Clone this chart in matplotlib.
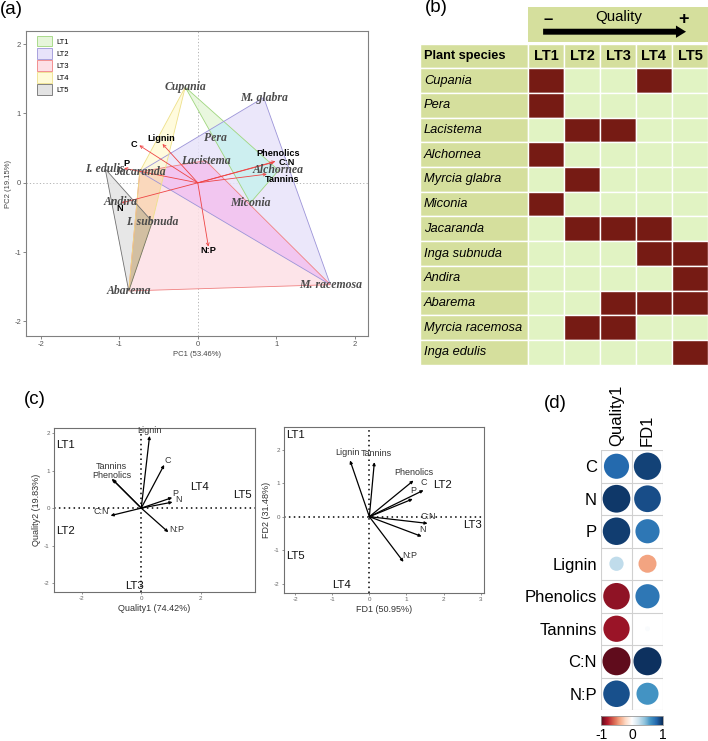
import numpy as np
import matplotlib
matplotlib.use('Agg')
import matplotlib.pyplot as plt
from matplotlib.patches import Rectangle, Polygon, Patch, FancyArrow
from matplotlib.colors import LinearSegmentedColormap, Normalize, to_rgba
from matplotlib.cm import ScalarMappable

plt.rcParams['font.family'] = ['Liberation Sans', 'DejaVu Sans']
plt.rcParams['axes.unicode_minus'] = False

# ---- data ----
species = ['Cupania', 'Pera', 'Lacistema', 'Alchornea', 'Myrcia glabra', 'Miconia',
           'Jacaranda', 'Inga subnuda', 'Andira', 'Abarema', 'Myrcia racemosa', 'Inga edulis']
species_short = ['Cupania', 'Pera', 'Lacistema', 'Alchornea', 'M. glabra', 'Miconia',
                 'Jacaranda', 'I. subnuda', 'Andira', 'Abarema', 'M. racemosa', 'I. edulis']
litter_types = ['LT1', 'LT2', 'LT3', 'LT4', 'LT5']
# rows = species, cols = LT1..LT5
membership = [
    [1, 0, 0, 1, 0],
    [1, 0, 0, 0, 0],
    [0, 1, 1, 0, 0],
    [1, 0, 0, 0, 0],
    [0, 1, 0, 0, 0],
    [1, 0, 0, 0, 0],
    [0, 1, 1, 1, 0],
    [0, 0, 0, 1, 1],
    [0, 0, 0, 0, 1],
    [0, 0, 1, 1, 1],
    [0, 1, 1, 0, 0],
    [0, 0, 0, 0, 1],
]

pc1 = [-0.16, 0.22, 0.10, 1.03, 0.84, 0.67, -0.74, -0.58, -0.99, -0.88, 1.69, -1.18]
pc2 = [1.38, 0.65, 0.32, 0.18, 1.23, -0.29, 0.16, -0.56, -0.27, -1.56, -1.47, 0.20]

traits = ['C', 'N', 'P', 'Lignin', 'Phenolics', 'Tannins', 'C:N', 'N:P']
load_pc1 = [-0.745, -0.97, -0.94, -0.45, 0.99, 0.88, 0.965, 0.135]
load_pc2 = [0.54, -0.29, 0.21, 0.56, 0.31, 0.125, 0.295, -0.92]

q1 = [0.77, 1.05, 1.04, 0.28, -0.96, -0.99, -1.03, 0.91]
q2 = [1.15, 0.16, 0.28, 1.92, 0.76, 0.78, -0.20, -0.64]
lt_q1 = [-2.54, -2.54, -0.235, 1.94, 3.40]
lt_q2 = [1.69, -0.61, -2.07, 0.57, 0.36]

fd1 = [1.46, 1.41, 1.17, -0.52, 1.19, 0.135, 1.57, 0.92]
fd2 = [0.79, -0.59, 0.53, 1.68, 1.08, 1.63, -0.20, -1.35]
lt_fd1 = [-2.0, 1.98, 2.78, -0.75, -1.98]
lt_fd2 = [2.43, 0.96, -0.26, -2.05, -1.17]

corr_quality1 = [0.78, 0.95, 0.93, 0.25, -0.87, -0.85, -0.97, 0.87]
corr_fd1 = [0.92, 0.88, 0.72, -0.40, 0.72, 0.03, 0.97, 0.60]

# ---- figure ----
W, H = 708, 741
fig = plt.figure(figsize=(W / 100, H / 100), dpi=100)


def box(x0, y0, x1, y1):
    return fig.add_axes([x0 / W, 1 - y1 / H, (x1 - x0) / W, (y1 - y0) / H])


def hull(pts):
    pts = sorted(set(pts))
    def cross(o, a, b):
        return (a[0] - o[0]) * (b[1] - o[1]) - (a[1] - o[1]) * (b[0] - o[0])
    lower, upper = [], []
    for p in pts:
        while len(lower) >= 2 and cross(lower[-2], lower[-1], p) <= 0:
            lower.pop()
        lower.append(p)
    for p in reversed(pts):
        while len(upper) >= 2 and cross(upper[-2], upper[-1], p) <= 0:
            upper.pop()
        upper.append(p)
    return lower[:-1] + upper[:-1]


def panel_label(x, y, s):
    fig.text(x / W, 1 - y / H, s, fontsize=13.5, ha='left', va='center')


# ================= (a) PCA =================
ax = box(26, 31, 368, 336)
lt_fill = ['#e6f6da', '#e8e3fa', '#fde0e6', '#fffbd8', '#e3e3e3']
lt_edge = ['#9fd67e', '#9c94d8', '#f08080', '#eee08a', '#707070']
# colours where two hulls overlap
overlap_col = {(0, 1): '#cdeff0', (1, 2): '#f2c6f0', (2, 3): '#fad8bc', (3, 4): '#d2bfa2'}

hulls = []
for j, lt in enumerate(litter_types):
    pts = [(pc1[i], pc2[i]) for i in range(len(species)) if membership[i][j]]
    hulls.append(hull(pts))

fills = []
for j in range(5):
    p = Polygon(hulls[j], closed=True, facecolor=lt_fill[j], alpha=0.85,
                edgecolor='none', zorder=1)
    ax.add_patch(p)
    fills.append(p)
for (a, b), col in overlap_col.items():
    ov = Polygon(hulls[b], closed=True, facecolor=col, edgecolor='none', zorder=1.2)
    ax.add_patch(ov)
    ov.set_clip_path(fills[a])
for j in range(5):
    ax.add_patch(Polygon(hulls[j], closed=True, facecolor='none',
                         edgecolor=lt_edge[j], lw=0.6, zorder=1.5))

ax.axhline(0, color='#aaaaaa', ls=(0, (1.5, 2.5)), lw=0.6, zorder=0.5)
ax.axvline(0, color='#aaaaaa', ls=(0, (1.5, 2.5)), lw=0.6, zorder=0.5)

for name, x, y in zip(species_short, pc1, pc2):
    ax.text(x, y, name, family='Liberation Serif', style='italic', weight='bold',
            fontsize=8.5, color='#4a4a4a', ha='center', va='center', zorder=4)

a_off = {'C': (-3.6, 0.7), 'Lignin': (-0.7, 3.6), 'P': (1.4, 3.6), 'N': (-1.4, -4.3),
         'Phenolics': (2.2, 5.8), 'C:N': (9.4, 0), 'Tannins': (10.8, -3.6), 'N:P': (0, -2.9)}
for name, x, y in zip(traits, load_pc1, load_pc2):
    ax.annotate('', xy=(x, y), xytext=(0, 0),
                arrowprops=dict(arrowstyle='->', color='#ee4444', lw=0.6,
                                mutation_scale=5, shrinkA=0, shrinkB=0), zorder=3)
    dx, dy = a_off[name]
    ax.annotate(name, (x, y), xytext=(dx, dy), textcoords='offset points',
                ha='center', va='center', fontsize=6.6, weight='bold', color='black', zorder=5)

ax.set_xlim(-2.19, 2.17)
ax.set_ylim(-2.21, 2.19)
ax.set_xticks([-2, -1, 0, 1, 2])
ax.set_yticks([-2, -1, 0, 1, 2])
ax.tick_params(labelsize=5.5, colors='#555555', length=2, width=0.5, pad=1.5)
for s in ax.spines.values():
    s.set_color('#808080')
    s.set_linewidth(0.8)
ax.set_xlabel('PC1 (53.46%)', fontsize=5.5, color='#444444', labelpad=2)
ax.set_ylabel('PC2 (19.15%)', fontsize=5.5, color='#444444', labelpad=2)
handles = [Patch(facecolor=lt_fill[j], edgecolor=lt_edge[j], lw=0.6) for j in range(5)]
ax.legend(handles, litter_types, loc='upper left', bbox_to_anchor=(0.032, 0.984),
          frameon=False, fontsize=5.5, handlelength=2.0, handleheight=1.75,
          labelspacing=0.2, borderpad=0, borderaxespad=0, handletextpad=0.5)
panel_label(0, 10, '(a)')

# ================= (b) table =================
tb = box(420, 7, 708, 364.7)
tb.set_xlim(0, 8)
tb.set_ylim(13, -1.48)
tb.axis('off')
c_head = '#d5df9d'
c_cell = '#e1f3c3'
c_on = '#761b14'

tb.add_patch(Rectangle((3, -1.48), 5.2, 1.42, facecolor=c_head, edgecolor='none'))
tb.add_patch(FancyArrow(3.42, -0.48, 3.97, 0, width=0.24, head_width=0.5,
                        head_length=0.28, length_includes_head=True,
                        color='black', lw=0))
tb.text(3.56, -0.98, '\u2013', fontsize=12, weight='bold', ha='center', va='center')
tb.text(5.51, -1.09, 'Quality', fontsize=10.8, ha='center', va='center')
tb.text(7.32, -0.98, '+', fontsize=13, weight='heavy', ha='center', va='center')

tb.add_patch(Rectangle((0, 0), 3, 1, facecolor=c_head, edgecolor='white', lw=1))
tb.text(0.11, 0.5, 'Plant species', fontsize=9.2, weight='bold', ha='left', va='center')
for j, lt in enumerate(litter_types):
    tb.add_patch(Rectangle((3 + j, 0), 1, 1, facecolor=c_head, edgecolor='white', lw=1))
    tb.text(3.5 + j, 0.52, lt, fontsize=10.5, weight='bold', ha='center', va='center')
for i, sp in enumerate(species):
    tb.add_patch(Rectangle((0, 1 + i), 3, 1, facecolor=c_head, edgecolor='white', lw=1))
    tb.text(0.11, 1.5 + i, sp, fontsize=9.3, style='italic', ha='left', va='center')
    for j in range(5):
        col = c_on if membership[i][j] else c_cell
        tb.add_patch(Rectangle((3 + j, 1 + i), 1, 1, facecolor=col, edgecolor='white', lw=1))
panel_label(425, 8, '(b)')

# ================= (c) biplots =================
def biplot(ax, xs, ys, gx, gy, offsets, xlim, ylim, xticks, yticks, xlabel, ylabel):
    ax.set_xlim(*xlim)
    ax.set_ylim(*ylim)
    ax.axhline(0, color='black', ls=(0, (1, 2.2)), lw=1.1, zorder=0)
    ax.axvline(0, color='black', ls=(0, (1, 2.2)), lw=1.1, zorder=0)
    for name, x, y in zip(traits, xs, ys):
        ax.annotate('', xy=(x, y), xytext=(0, 0),
                    arrowprops=dict(arrowstyle='-|>', color='black', lw=0.9,
                                    mutation_scale=4, shrinkA=0, shrinkB=0))
        dx, dy = offsets[name]
        ax.annotate(name, (x, y), xytext=(dx, dy), textcoords='offset points',
                    ha='center', va='center', fontsize=6.5, color='#333333')
    for lt, x, y in zip(litter_types, gx, gy):
        ax.text(x, y, lt, fontsize=8.2, ha='center', va='center', color='#111111')
    ax.set_xticks(xticks)
    ax.set_yticks(yticks)
    ax.tick_params(labelsize=4.5, colors='#666666', length=1.5, width=0.5, pad=1.5)
    for s in ax.spines.values():
        s.set_color('#707070')
        s.set_linewidth(0.8)
    ax.set_xlabel(xlabel, fontsize=6.5, color='#333333', labelpad=2)
    ax.set_ylabel(ylabel, fontsize=6.5, color='#333333', labelpad=2)


q_off = {'Lignin': (0, 3.6), 'C': (2.4, 3.4), 'Tannins': (-0.5, 8.9), 'Phenolics': (-0.5, 2.9),
         'P': (1.9, 3.1), 'N': (4.1, 1.9), 'C:N': (-6.5, 2.7), 'N:P': (6, 1.9)}
f_off = {'Lignin': (-1.9, 5.5), 'Tannins': (1.7, 6), 'Phenolics': (0, 5.5), 'C': (0, 5.5),
         'P': (0, 5.8), 'C:N': (0.5, 4.8), 'N': (0.5, 4.8), 'N:P': (4.3, 4.8)}

axl = box(54, 428, 255, 592)
biplot(axl, q1, q2, lt_q1, lt_q2, q_off, (-2.93, 3.82), (-2.23, 2.13),
       [-2, 0, 2], [-2, -1, 0, 1, 2], 'Quality1 (74.42%)', 'Quality2 (19.83%)')
axr = box(284, 427, 484, 593)
biplot(axr, fd1, fd2, lt_fd1, lt_fd2, f_off, (-2.3, 3.09), (-2.28, 2.68),
       [-2, -1, 0, 1, 2, 3], [-2, -1, 0, 1, 2], 'FD1 (50.95%)', 'FD2 (31.48%)')
panel_label(24, 400, '(c)')

# ================= (d) correlation circles =================
cmap = LinearSegmentedColormap.from_list('corr', [
    '#550a1a', '#B2182B', '#D6604D', '#F4A582', '#FDDBC7', '#FFFFFF',
    '#D1E5F0', '#92C5DE', '#4393C3', '#2166AC', '#0a2a55'])
norm = Normalize(-1, 1)
axd = box(601, 450, 663, 710)
axd.set_xlim(-0.5, 1.5)
axd.set_ylim(len(traits) - 0.5, -0.5)
for col, vals in enumerate([corr_quality1, corr_fd1]):
    v = np.array(vals)
    axd.scatter(np.full(len(v), col), np.arange(len(v)), s=(20.5 * np.sqrt(np.abs(v))) ** 2,
                c=v, cmap=cmap, norm=norm, edgecolors='none', zorder=3)
for k in np.arange(-0.5, 2, 1):
    axd.axvline(k, color='#d0d0d0', lw=0.8, zorder=1)
for k in np.arange(-0.5, len(traits), 1):
    axd.axhline(k, color='#d0d0d0', lw=0.8, zorder=1)
for s in axd.spines.values():
    s.set_visible(False)
axd.set_yticks(range(len(traits)))
axd.set_yticklabels(traits, fontsize=12)
axd.set_xticks([0, 1])
axd.set_xticklabels(['Quality1', 'FD1'], rotation=90, fontsize=12)
axd.xaxis.tick_top()
axd.tick_params(length=0, pad=3)

cax = box(601, 716, 663, 725)
cb = fig.colorbar(ScalarMappable(norm=norm, cmap=cmap), cax=cax, orientation='horizontal')
cb.set_ticks([-1, 0, 1])
cb.ax.tick_params(labelsize=10, length=0, pad=2)
cb.outline.set_edgecolor('#999999')
cb.outline.set_linewidth(0.6)
panel_label(544, 403, '(d)')

fig.savefig('out.png', dpi=100)
